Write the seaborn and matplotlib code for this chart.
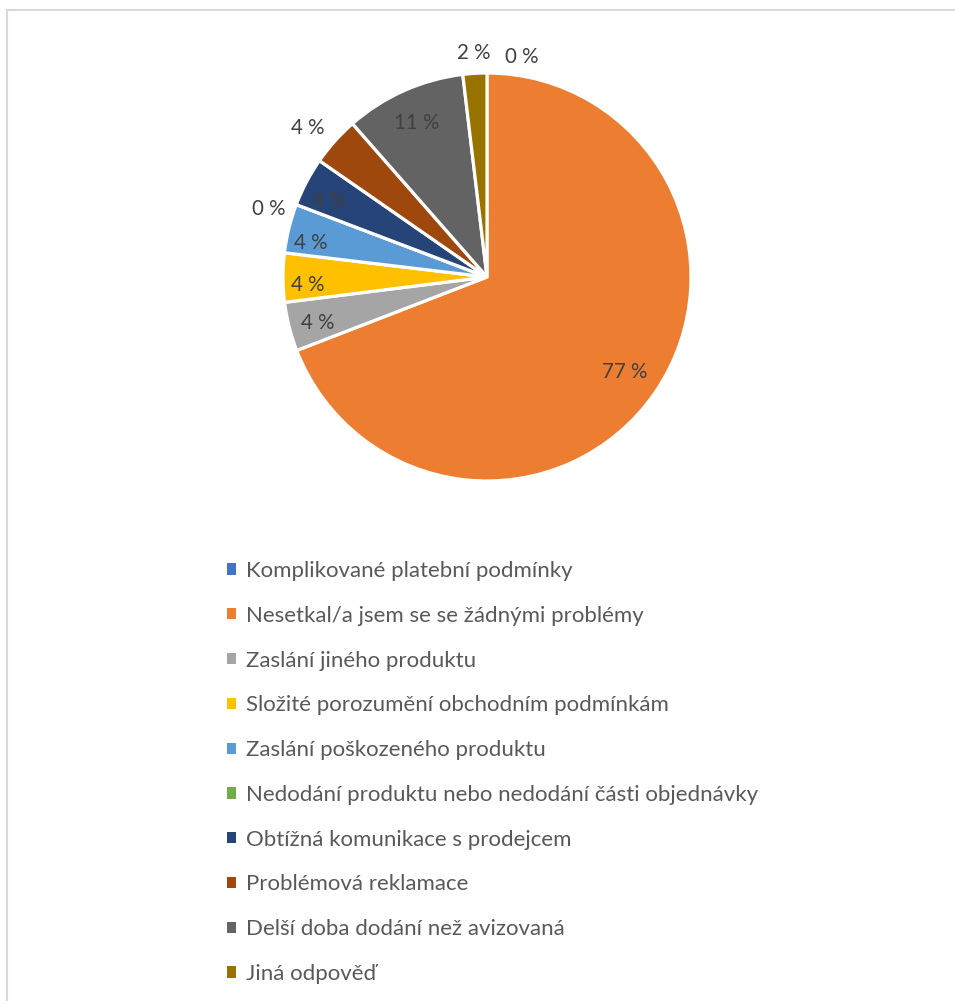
import matplotlib
matplotlib.use("Agg")
import matplotlib.pyplot as plt
from matplotlib.patches import Patch
from matplotlib.lines import Line2D
import numpy as np
import seaborn as sns

# Survey answers: share of respondents (%) per reported problem
categories = [
    "Komplikované platební podmínky",
    "Nesetkal/a jsem se se žádnými problémy",
    "Zaslání jiného produktu",
    "Složité porozumění obchodním podmínkám",
    "Zaslání poškozeného produktu",
    "Nedodání produktu nebo nedodání části objednávky",
    "Obtížná komunikace s prodejcem",
    "Problémová reklamace",
    "Delší doba dodání než avizovaná",
    "Jiná odpověď",
]
shares = [0.0, 76.6, 4.3, 4.3, 4.3, 0.0, 4.3, 4.3, 10.6, 2.1]
colors = ["#4472C4", "#ED7D31", "#A5A5A5", "#FFC000", "#5B9BD5",
          "#70AD47", "#264478", "#9E480E", "#636363", "#997300"]

# label placement: radial factor and angular nudge (degrees) per slice
label_radius = [1.09, 0.82, 0.86, 0.88, 0.88, 1.12, 0.86, 1.14, 0.83, 1.10]
label_nudge = [-9.0, 0.0, 1.0, 2.5, 3.0, 3.5, 2.0, 2.0, 0.5, 0.0]

sns.set_theme(style="white")
plt.rcParams["font.family"] = ["Lato", "DejaVu Sans"]

W, H = 955, 1001
fig = plt.figure(figsize=(W / 100, H / 100), dpi=100)
fig.patch.set_facecolor("white")

cx, cy, r = 487, 277, 204
ax = fig.add_axes([(cx - r) / W, (H - cy - r) / H, 2 * r / W, 2 * r / H])
palette = sns.color_palette(colors)
wedges, _ = ax.pie(shares, colors=palette, startangle=90, counterclock=False,
                   radius=1.0, wedgeprops=dict(edgecolor="white", linewidth=2.3))
ax.set_xlim(-1, 1)
ax.set_ylim(-1, 1)
ax.set_aspect("equal")
ax.axis("off")

for w, v, rf, nd in zip(wedges, shares, label_radius, label_nudge):
    mid = np.deg2rad((w.theta1 + w.theta2) / 2 + nd)
    ax.text(rf * np.cos(mid), rf * np.sin(mid), f"{v:.0f} %",
            ha="center", va="center", fontsize=14.8, color="#404040",
            clip_on=False)

handles = [Patch(facecolor=c, edgecolor="none") for c in palette]
fig.legend(handles, categories, loc="upper left",
           bbox_to_anchor=(227 / W, (H - 561) / H), frameon=False,
           fontsize=16, labelcolor="#595959", handlelength=0.4,
           handleheight=0.4, handletextpad=0.45, labelspacing=1.115,
           borderpad=0, borderaxespad=0)

# chart area border (top and left edges)
fig.add_artist(Line2D([6.5 / W, 1.0], [(H - 9.5) / H] * 2,
                      transform=fig.transFigure, color="#D9D9D9", lw=1.5))
fig.add_artist(Line2D([6.5 / W] * 2, [0.0, (H - 9.5) / H],
                      transform=fig.transFigure, color="#D9D9D9", lw=1.5))

fig.savefig("out.png", dpi=100)
